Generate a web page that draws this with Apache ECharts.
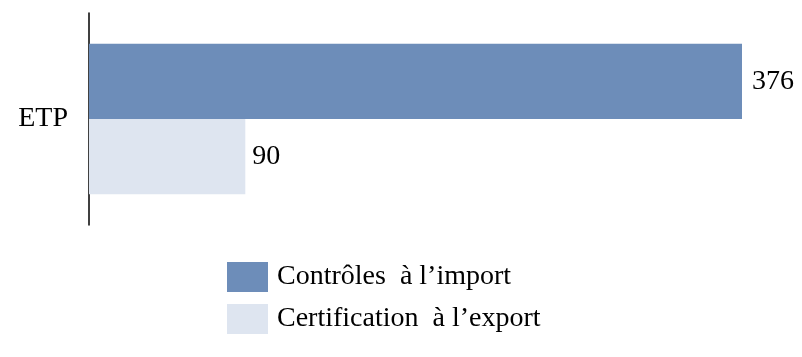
<!DOCTYPE html>
<html><head><meta charset="utf-8">
<script src="https://cdn.jsdelivr.net/npm/echarts@6/dist/echarts.min.js"></script>
<style>html,body{margin:0;padding:0;background:#fff}#c{width:802px;height:357px}</style>
</head><body><div id="c"></div>
<script>
var categories = ['ETP'];
var seriesNames = ['Contrôles  à l’import', 'Certification  à l’export'];
var importValues = [376];
var exportValues = [90];
var colors = ['#6d8db9', '#dee5f0'];
var font = '"Liberation Serif", "Times New Roman", serif';
var chart = echarts.init(document.getElementById('c'));
chart.setOption({
  animation: false,
  grid: {left: 89, right: 60, top: 13, bottom: 132},
  xAxis: {type: 'value', min: 0, max: 376, show: false},
  yAxis: {type: 'category', data: categories, inverse: true,
    axisLine: {lineStyle: {color: '#000', width: 1.5}},
    axisTick: {show: false},
    axisLabel: {color: '#000', fontFamily: font, fontSize: 28, margin: 21, padding: [6,0,0,0]}},
  legend: {orient: 'vertical', left: 227, top: 262, padding: 0, itemWidth: 41, itemHeight: 30, itemGap: 12,
    icon: 'rect', textStyle: {color: '#000', fontFamily: font, fontSize: 28, padding: [0,0,0,4]},
    itemStyle: {borderWidth: 0}},
  series: [
    {name: seriesNames[0], type: 'bar', data: importValues, barGap: '0%', barCategoryGap: '29%',
     itemStyle: {color: colors[0]},
     label: {show: true, position: 'right', distance: 10, color: '#000', fontFamily: font, fontSize: 28, padding: [3,0,0,0]}},
    {name: seriesNames[1], type: 'bar', data: exportValues,
     itemStyle: {color: colors[1]},
     label: {show: true, position: 'right', distance: 7, color: '#000', fontFamily: font, fontSize: 28, padding: [3,0,0,0]}}
  ]
});
</script></body></html>
